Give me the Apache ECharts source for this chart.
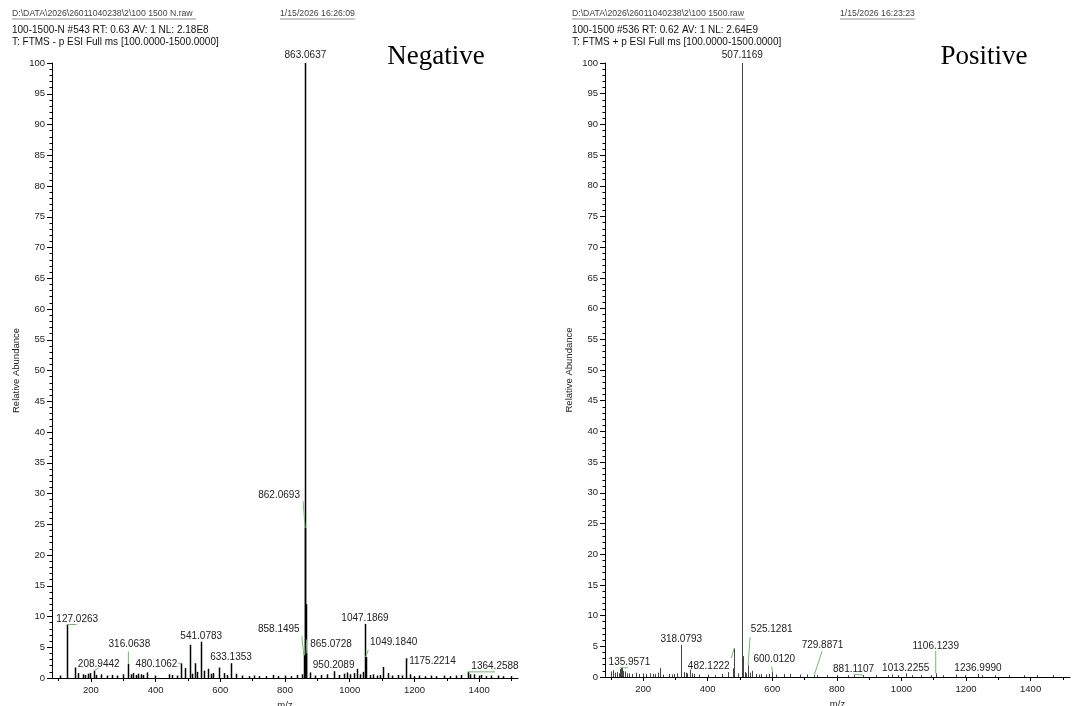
<!DOCTYPE html>
<html>
<head>
<meta charset="utf-8">
<script src="https://cdn.jsdelivr.net/npm/echarts@6/dist/echarts.min.js"></script>
<style>
  html, body { margin: 0; padding: 0; background: #fff; }
  #chart { width: 1092px; height: 706px; }
</style>
</head>
<body>
<div id="chart"></div>
<script>
// ---- scan ranges and axis ticks ----
const negRange = [80, 1520];
const posRange = [82, 1522];
const mzTicks = [200, 400, 600, 800, 1000, 1200, 1400];
const mzMinorTicks = [100, 300, 500, 700, 900, 1100, 1300, 1500];
const abundStep = 5;

// ---- negative-mode scan (100-1500-N #543) ----
const negMz = [105.0, 127.0263, 150.9, 161.0, 175.9, 183.0, 190.1, 196.9, 208.9442, 215.0,
  232.0, 248.9, 266.1, 282.0, 300.0, 316.0638, 325.0, 331.1, 338.9, 346.0,
  354.1, 362.0, 372.1, 398.9, 442.1, 452.0, 465.0, 480.1062, 491.1, 505.1,
  512.0, 521.1, 528.0, 541.0783, 551.1, 562.0, 570.1, 577.0, 597.1, 613.0,
  620.1, 633.1353, 650.0, 668.1, 690.0, 705.1, 720.0, 742.1, 763.0, 779.1,
  799.0, 818.1, 836.0, 851.1, 858.1495, 862.0693, 863.0637, 864.0668, 865.0728, 878.1,
  892.0, 910.1, 931.0, 950.2089, 968.0, 983.1, 991.0, 1000.1, 1012.0, 1021.1,
  1031.0, 1040.1, 1047.1869, 1049.1840, 1062.0, 1073.1, 1085.0, 1093.1, 1103.1, 1118.0,
  1130.1, 1149.0, 1161.1, 1175.2214, 1187.0, 1200.1, 1215.0, 1231.1, 1250.0, 1268.1,
  1290.0, 1310.1, 1329.0, 1345.1, 1364.2588, 1372.0, 1385.1, 1398.0, 1405.1, 1420.0,
  1438.1, 1457.0, 1475.1, 1497.0];
const negAbund = [0.4, 8.7, 1.7, 0.8, 0.6, 0.5, 0.7, 0.8, 1.2, 0.5,
  0.6, 0.4, 0.5, 0.4, 0.6, 2.3, 0.6, 0.8, 0.5, 0.7,
  0.6, 0.5, 0.9, 0.4, 0.6, 0.5, 0.4, 2.4, 1.6, 5.4,
  0.7, 2.4, 1.0, 5.9, 1.2, 1.5, 0.7, 0.8, 1.7, 0.8,
  0.5, 2.4, 0.7, 0.4, 0.3, 0.4, 0.3, 0.3, 0.5, 0.3,
  0.4, 0.3, 0.5, 0.6, 3.7, 24.4, 100, 12.0, 4.0, 0.9,
  0.4, 0.5, 0.6, 1.1, 0.5, 0.7, 0.9, 0.6, 0.8, 1.5,
  0.6, 1.0, 8.8, 3.4, 0.5, 0.6, 0.4, 0.5, 1.8, 0.8,
  0.4, 0.5, 0.4, 3.2, 0.6, 0.3, 0.4, 0.3, 0.4, 0.3,
  0.4, 0.3, 0.4, 0.5, 1.0, 0.6, 0.6, 0.4, 0.5, 0.3,
  0.4, 0.4, 0.3, 0.3];
const negLabeled = [127.0263, 208.9442, 316.0638, 480.1062, 541.0783, 633.1353, 858.1495,
  862.0693, 863.0637, 865.0728, 950.2089, 1047.1869, 1049.1840, 1175.2214, 1364.2588];

// ---- positive-mode scan (100-1500 #536) ----
const posMz = [101.0, 106.1, 113.0, 118.1, 124.0, 128.1, 131.0, 135.9571, 138.1, 143.0,
  150.1, 157.0, 165.1, 179.0, 188.1, 200.0, 210.1, 221.0, 229.1, 236.0,
  245.1, 253.1, 262.0, 280.1, 288.0, 296.1, 305.0, 318.0793, 326.1, 333.0,
  337.1, 344.0, 351.1, 358.0, 372.1, 400.0, 421.1, 443.0, 462.1, 477.1,
  482.1222, 493.0, 507.1169, 508.1202, 509.1, 515.0, 520.1, 525.1281, 531.0, 537.1,
  550.0, 558.1, 566.0, 581.1, 590.0, 600.0120, 612.1, 636.0, 656.1, 687.0,
  708.1, 729.8871, 737.0, 770.1, 801.0, 834.1, 853.0, 881.1107, 921.0, 958.1,
  972.0, 990.1, 1013.2255, 1034.0, 1062.1, 1090.0, 1106.1239, 1130.0, 1170.1, 1198.0,
  1236.9990, 1250.1, 1290.0, 1334.1, 1380.0, 1421.1, 1468.0];
const posAbund = [0.9, 1.1, 0.7, 0.8, 0.6, 1.3, 1.5, 1.5, 1.0, 0.9,
  0.6, 0.6, 0.5, 0.7, 0.5, 0.6, 0.5, 0.6, 0.5, 0.5,
  0.7, 1.5, 0.4, 0.5, 0.4, 0.5, 0.6, 5.2, 0.8, 0.7,
  0.6, 1.2, 0.6, 0.5, 0.4, 0.4, 0.3, 0.5, 0.8, 1.4,
  4.7, 0.6, 100, 3.4, 1.2, 0.8, 0.6, 1.9, 0.7, 1.0,
  0.5, 0.4, 0.5, 0.4, 0.5, 0.9, 0.4, 0.5, 0.5, 0.4,
  0.4, 0.3, 0.3, 0.3, 0.3, 0.3, 0.3, 0.3, 0.3, 0.3,
  0.4, 0.3, 0.6, 0.3, 0.3, 0.3, 0.6, 0.3, 0.4, 0.3,
  0.5, 0.3, 0.3, 0.3, 0.3, 0.3, 0.3];
const posLabeled = [135.9571, 318.0793, 482.1222, 507.1169, 525.1281, 600.0120, 729.8871,
  881.1107, 1013.2255, 1106.1239, 1236.9990];

// ---- label placement: pixel offset of the label centre from the peak top,
//      plus an optional guide segment (pixel offsets from the peak top) ----
const negLabelPlace = {
  '127.0263': { dx: 10, dy: -5, lead: [[0, 0], [9.5, 0]] },
  '208.9442': { dx: 5, dy: -6, lead: [[0, 0], [5, -2.5]] },
  '316.0638': { dx: 1, dy: -20, lead: [[0, 0], [0, -12.5]] },
  '480.1062': { dx: -25, dy: 1.4, lead: [[0, 0], [-3.5, 0]] },
  '858.1495': { dx: -25, dy: -25.5, lead: [[0, 0], [-2, -19]] },
  '862.0693': { dx: -26, dy: -33, lead: [[0, 0], [-2, -27]] },
  '863.0637': { dx: 0, dy: -8 },
  '865.0728': { dx: 25, dy: -9.3, lead: [[0, 0], [0.7, -14]] },
  '1049.1840': { dx: 28, dy: -14.5, lead: [[0, 0], [2.7, -7.3]] },
  '1175.2214': { dx: 26, dy: 2.7, lead: [[1, 0], [1, 3]] },
  '1364.2588': { dx: 27.4, dy: -6, lead: [[0, 0], [27.4, 0]] }
};
const posLabelPlace = {
  '135.9571': { dx: 7, dy: -6, lead: [[-2.4, 0], [5.6, 0]] },
  '482.1222': { dx: -25.5, dy: 17.7, lead: [[0, 0], [-3, 10]] },
  '507.1169': { dx: 0, dy: -8 },
  '525.1281': { dx: 23.6, dy: -36, lead: [[0, 0], [2, -28.3]] },
  '600.0120': { dx: 2, dy: -12.5, lead: [[0, 0], [-0.5, -5]] },
  '729.8871': { dx: 8.3, dy: -30, lead: [[0, 0], [8, -24.3]] },
  '881.1107': { dx: -9.5, dy: -6, lead: [[0, 0], [-9.7, -1]] },
  '1106.1239': { dx: 0, dy: -27, lead: [[0, 0], [0, -22.6]] }
};

const FONT = '"Liberation Sans", Arial, sans-serif';
const LEAD_COLOR = '#6cbf6c';

function stickSeries(axis, mz, abund, color, width) {
  return {
    type: 'custom',
    xAxisIndex: axis,
    yAxisIndex: axis,
    silent: true,
    z: 2,
    data: mz.map((m, i) => [m, abund[i]]),
    renderItem: function (params, api) {
      const top = api.coord([api.value(0), api.value(1)]);
      const base = api.coord([api.value(0), 0]);
      const x = Math.round(top[0]) + 0.5;
      return {
        type: 'line',
        shape: { x1: x, y1: base[1], x2: x, y2: top[1] },
        style: { stroke: color, lineWidth: width }
      };
    }
  };
}

function labelSeries(axis, mz, abund, labeled, place) {
  return {
    type: 'custom',
    xAxisIndex: axis,
    yAxisIndex: axis,
    silent: true,
    clip: false,
    z: 5,
    data: labeled.map(m => [m, abund[mz.indexOf(m)]]),
    renderItem: function (params, api) {
      const m = api.value(0);
      const p = api.coord([m, api.value(1)]);
      const text = m.toFixed(4);
      const pl = place[text] || { dx: 0, dy: -5.5 };
      const children = [];
      if (pl.lead) {
        children.push({
          type: 'line',
          shape: {
            x1: p[0] + pl.lead[0][0], y1: p[1] + pl.lead[0][1],
            x2: p[0] + pl.lead[1][0], y2: p[1] + pl.lead[1][1]
          },
          style: { stroke: LEAD_COLOR, lineWidth: 1 }
        });
      }
      children.push({
        type: 'text',
        x: p[0] + pl.dx,
        y: p[1] + pl.dy,
        style: {
          text: text,
          fill: '#222',
          font: '10px ' + FONT,
          align: 'center', verticalAlign: 'middle',
          textAlign: 'center', textVerticalAlign: 'middle'
        }
      });
      return { type: 'group', children: children };
    }
  };
}

const plainNumber = v => String(v);

function mainXAxis(grid, range) {
  return {
    type: 'value', gridIndex: grid, position: 'bottom',
    min: range[0], max: range[1],
    name: 'm/z', nameLocation: 'middle', nameGap: 18,
    nameTextStyle: { fontSize: 9.5, color: '#222', fontFamily: FONT },
    axisLine: { show: true, onZero: false, lineStyle: { color: '#000', width: 1 } },
    axisTick: { show: true, customValues: mzTicks, length: 4, lineStyle: { color: '#000' } },
    axisLabel: { show: true, customValues: mzTicks, formatter: plainNumber, margin: 7,
      fontSize: 9.5, color: '#222', fontFamily: FONT },
    splitLine: { show: false }
  };
}
function minorXAxis(grid, range) {
  return {
    type: 'value', gridIndex: grid, position: 'bottom', offset: 0,
    min: range[0], max: range[1],
    axisLine: { show: false },
    axisTick: { show: true, customValues: mzMinorTicks, length: 3, lineStyle: { color: '#000' } },
    axisLabel: { show: false },
    splitLine: { show: false }
  };
}
function abundAxis(grid) {
  return {
    type: 'value', gridIndex: grid, min: 0, max: 100, interval: abundStep,
    name: 'Relative Abundance', nameLocation: 'middle', nameGap: 31,
    nameTextStyle: { fontSize: 9.5, color: '#222', fontFamily: FONT },
    axisLine: { show: true, lineStyle: { color: '#000', width: 1 } },
    axisTick: { show: true, length: 5, lineStyle: { color: '#000' } },
    minorTick: { show: true, splitNumber: 5, length: 2.5, lineStyle: { color: '#000' } },
    axisLabel: { margin: 7, fontSize: 9.5, color: '#222', fontFamily: FONT, formatter: plainNumber },
    splitLine: { show: false }
  };
}

function headerText(x, y, text, size, color) {
  return {
    type: 'text', x: x, y: y, silent: true,
    style: { text: text, fill: color, font: size + 'px ' + FONT, textVerticalAlign: 'middle', verticalAlign: 'middle' }
  };
}
function rule(x1, x2, y) {
  return { type: 'line', silent: true, shape: { x1: x1, y1: y, x2: x2, y2: y }, style: { stroke: '#777', lineWidth: 0.8 } };
}

const chart = echarts.init(document.getElementById('chart'), null, { renderer: 'canvas' });
chart.setOption({
  animation: false,
  backgroundColor: '#fff',
  textStyle: { fontFamily: FONT },
  grid: [
    { left: 52, top: 63, width: 466, height: 615, outerBoundsMode: 'none' },
    { left: 605, top: 63, width: 465, height: 614, outerBoundsMode: 'none' }
  ],
  xAxis: [mainXAxis(0, negRange), mainXAxis(1, posRange), minorXAxis(0, negRange), minorXAxis(1, posRange)],
  yAxis: [abundAxis(0), abundAxis(1)],
  series: [
    stickSeries(0, negMz, negAbund, '#000', 1.5),
    labelSeries(0, negMz, negAbund, negLabeled, negLabelPlace),
    stickSeries(1, posMz, posAbund, '#444', 1),
    labelSeries(1, posMz, posAbund, posLabeled, posLabelPlace)
  ],
  graphic: [
    headerText(12, 14, 'D:\\DATA\\2026\\26011040238\\2\\100 1500 N.raw', 8.7, '#444'),
    rule(12, 196, 19),
    headerText(280, 14, '1/15/2026 16:26:09', 8.7, '#444'),
    rule(280, 355, 19),
    headerText(12, 30, '100-1500-N #543 RT: 0.63 AV: 1 NL: 2.18E8', 10, '#111'),
    headerText(12, 42, 'T: FTMS - p ESI Full ms [100.0000-1500.0000]', 10, '#111'),
    headerText(572, 14, 'D:\\DATA\\2026\\26011040238\\2\\100 1500.raw', 8.7, '#444'),
    rule(572, 745, 19),
    headerText(840, 14, '1/15/2026 16:23:23', 8.7, '#444'),
    rule(840, 915, 19),
    headerText(572, 30, '100-1500 #536 RT: 0.62 AV: 1 NL: 2.64E9', 10, '#111'),
    headerText(572, 42, 'T: FTMS + p ESI Full ms [100.0000-1500.0000]', 10, '#111'),
    {
      type: 'text', x: 436, y: 57, silent: true,
      style: { text: 'Negative', fill: '#000', font: '27px "Liberation Serif", "Times New Roman", serif',
        align: 'center', verticalAlign: 'middle', textAlign: 'center', textVerticalAlign: 'middle' }
    },
    {
      type: 'text', x: 984, y: 57, silent: true,
      style: { text: 'Positive', fill: '#000', font: '27px "Liberation Serif", "Times New Roman", serif',
        align: 'center', verticalAlign: 'middle', textAlign: 'center', textVerticalAlign: 'middle' }
    }
  ]
});
</script>
</body>
</html>
